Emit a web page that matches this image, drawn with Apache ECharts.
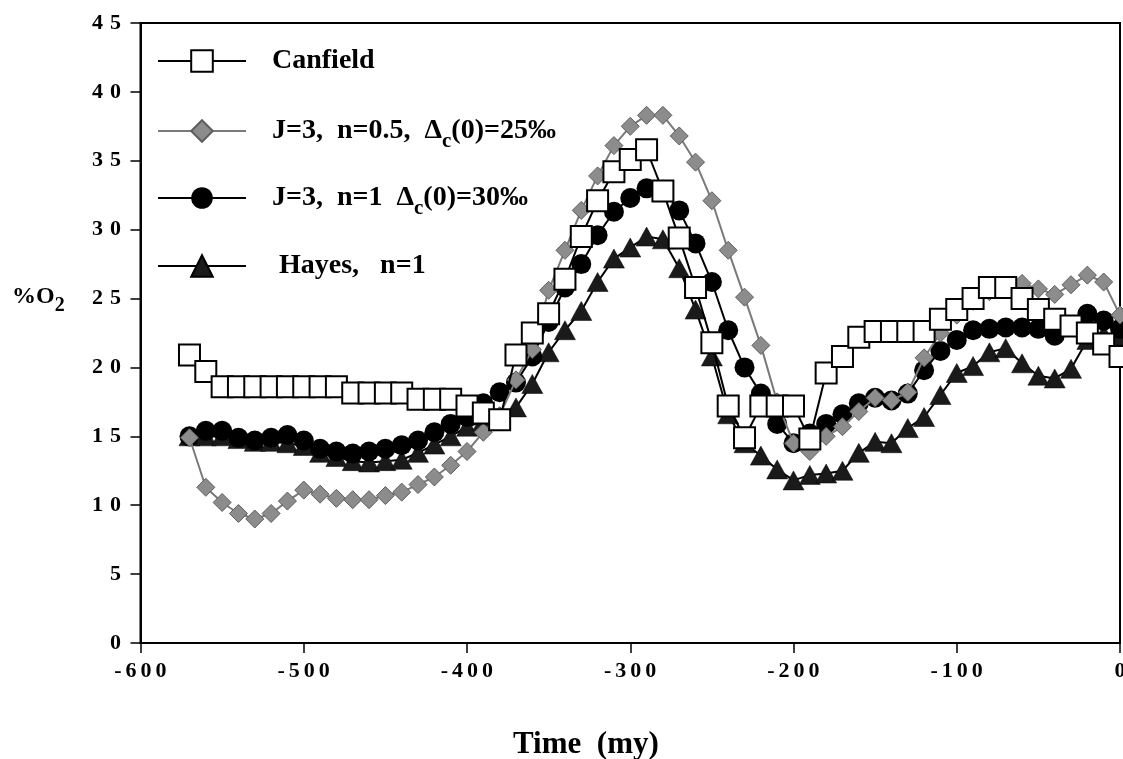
<!DOCTYPE html>
<html>
<head>
<meta charset="utf-8">
<script src="https://cdn.jsdelivr.net/npm/echarts@6/dist/echarts.min.js"></script>
<style>
html,body{margin:0;padding:0;background:#fff;}
#chart{width:1123px;height:759px;}
</style>
</head>
<body>
<div id="chart"></div>
<script>
// Time (my)
const years = [-570,-560,-550,-540,-530,-520,-510,-500,-490,-480,-470,-460,-450,-440,-430,-420,-410,-400,-390,-380,-370,-360,-350,-340,-330,-320,-310,-300,-290,-280,-270,-260,-250,-240,-230,-220,-210,-200,-190,-180,-170,-160,-150,-140,-130,-120,-110,-100,-90,-80,-70,-60,-50,-40,-30,-20,-10,0];

// %O2 values
const canfield = [20.9,19.7,18.6,18.6,18.6,18.6,18.6,18.6,18.6,18.6,18.15,18.15,18.15,18.15,17.7,17.7,17.7,17.2,16.7,16.2,20.9,22.5,23.9,26.4,29.5,32.1,34.2,35.1,35.8,32.8,29.4,25.8,21.8,17.2,14.9,17.2,17.2,17.2,14.8,19.6,20.8,22.2,22.6,22.6,22.6,22.6,23.5,24.2,25.0,25.8,25.8,25.0,24.2,23.5,23.0,22.5,21.7,20.8];
const jN05 = [14.9,11.3,10.2,9.4,9.0,9.4,10.3,11.1,10.8,10.5,10.4,10.4,10.7,10.95,11.5,12.05,12.9,13.9,15.3,16.5,19.1,21.3,25.6,28.5,31.4,33.9,36.1,37.5,38.3,38.3,36.8,34.9,32.1,28.5,25.1,21.6,17.5,14.5,13.9,15.0,15.7,16.8,17.8,17.6,18.2,20.7,22.5,23.8,24.8,25.5,25.9,26.1,25.7,25.3,26.0,26.7,26.2,23.8];
const jN1 = [15.0,15.4,15.4,14.9,14.7,14.9,15.1,14.7,14.1,13.9,13.75,13.9,14.1,14.35,14.7,15.3,15.9,16.4,17.4,18.2,18.9,20.8,23.3,25.8,27.5,29.6,31.3,32.3,33.0,32.9,31.4,29.0,26.2,22.7,20.0,18.1,15.9,14.5,15.2,15.9,16.6,17.4,17.8,17.6,18.1,19.8,21.2,22.0,22.7,22.8,22.9,22.9,22.8,22.3,23.0,23.9,23.4,22.8];
const hayes = [15.0,15.0,15.0,14.8,14.6,14.6,14.5,14.3,13.8,13.5,13.2,13.1,13.2,13.3,13.8,14.4,15.0,15.7,16.1,16.4,17.1,18.8,21.1,22.7,24.1,26.2,27.9,28.7,29.5,29.3,27.2,24.2,20.8,16.6,14.5,13.6,12.6,11.8,12.2,12.3,12.5,13.8,14.6,14.5,15.6,16.4,18.0,19.6,20.1,21.1,21.4,20.3,19.4,19.2,19.9,22.0,22.4,22.3];

const seriesNames = ['Canfield','J=3,  n=0.5,  Δc(0)=25‰','J=3,  n=1  Δc(0)=30‰','Hayes,   n=1'];
const legendLabels = [
  '{a|Canfield}',
  '{a|J=3,  n=0.5,  Δ}{s|c}{a|(0)=25‰}',
  '{a|J=3,  n=1  Δ}{s|c}{a|(0)=30‰}',
  '{a| Hayes,   n=1}'
];
const xTicks = {min:-600, max:0, interval:100};
const yTicks = {min:0, max:45, interval:5};
const xTitle = 'Time  (my)';

const FONT = 'Liberation Serif';
const pair = (arr) => years.map((y,i)=>[y, arr[i]]);
const spaced = (v) => String(v).split('').map(c => (c==='-' ? '{m|-}' : '{d|'+c+'}')).join('');

const richLegend = {
  a:{fontFamily:FONT,fontWeight:'bold',fontSize:28,color:'#000',verticalAlign:'bottom'},
  s:{fontFamily:FONT,fontWeight:'bold',fontSize:21,color:'#000',verticalAlign:'bottom',padding:[0,0,-7,0]}
};

function legendItem(idx, top){
  return {
    data:[seriesNames[idx]], left:152, top:top, orient:'vertical',
    itemWidth:88, itemHeight:27, selectedMode:false,
    formatter:()=>legendLabels[idx],
    textStyle:{padding:[0,0,0,21], rich:richLegend}
  };
}

const chart = echarts.init(document.getElementById('chart'));
chart.setOption({
  animation:false,
  backgroundColor:'#fff',
  grid:{left:140.5,right:3,top:23,bottom:116,outerBoundsMode:'none',containLabel:false,
        show:true,borderColor:'#000',borderWidth:2,backgroundColor:'transparent'},
  legend:[legendItem(0,42), legendItem(1,112), legendItem(2,179), legendItem(3,247)],
  xAxis:{
    type:'value', min:xTicks.min, max:xTicks.max, interval:xTicks.interval,
    axisLine:{onZero:false,lineStyle:{color:'#000',width:2}},
    axisTick:{show:true,inside:false,length:10,lineStyle:{color:'#000',width:1.5}},
    splitLine:{show:false},
    axisLabel:{margin:17,formatter:spaced,
      rich:{d:{fontFamily:FONT,fontWeight:'bold',fontSize:22,color:'#000',width:15,align:'center'},
            m:{fontFamily:FONT,fontWeight:'bold',fontSize:22,color:'#000',width:11,align:'center'}}}
  },
  yAxis:{
    type:'value', min:yTicks.min, max:yTicks.max, interval:yTicks.interval,
    axisLine:{show:true,onZero:false,lineStyle:{color:'#000',width:2}},
    axisTick:{show:true,inside:false,length:10,lineStyle:{color:'#000',width:1.5}},
    splitLine:{show:false},
    axisLabel:{margin:16,formatter:spaced,
      rich:{d:{fontFamily:FONT,fontWeight:'bold',fontSize:22,color:'#000',width:18,align:'center'},
            m:{fontFamily:FONT,fontWeight:'bold',fontSize:22,color:'#000',width:11,align:'center'}}}
  },
  graphic:[{
    type:'text', left:12, top:285,
    style:{text:'{a|%O}{s|2}', rich:{
      a:{fontFamily:FONT,fontWeight:'bold',fontSize:24,fill:'#000',verticalAlign:'bottom'},
      s:{fontFamily:FONT,fontWeight:'bold',fontSize:20,fill:'#000',verticalAlign:'bottom',padding:[0,0,-7,0]}
    }}
  },{
    type:'text', left:513, top:729,
    style:{text:xTitle, fontFamily:FONT, fontWeight:'bold', fontSize:31, fill:'#000'}
  }],
  series:[
    {name:seriesNames[3], type:'line', data:pair(hayes), symbol:'triangle', symbolSize:[21,19],
     lineStyle:{color:'#000',width:2}, itemStyle:{color:'#1a1a1a',borderColor:'#000',borderWidth:0.5}, z:2},
    {name:seriesNames[2], type:'line', data:pair(jN1), symbol:'circle', symbolSize:20,
     lineStyle:{color:'#000',width:2}, itemStyle:{color:'#000'}, z:3},
    {name:seriesNames[1], type:'line', data:pair(jN05), symbol:'diamond', symbolSize:[18,18],
     lineStyle:{color:'#7a7a7a',width:2}, itemStyle:{color:'#8c8c8c',borderColor:'#5e5e5e',borderWidth:1}, z:4},
    {name:seriesNames[0], type:'line', data:pair(canfield), symbol:'rect', symbolSize:21,
     lineStyle:{color:'#000',width:2}, itemStyle:{color:'#fff',borderColor:'#000',borderWidth:2}, z:5}
  ]
});
</script>
</body>
</html>
